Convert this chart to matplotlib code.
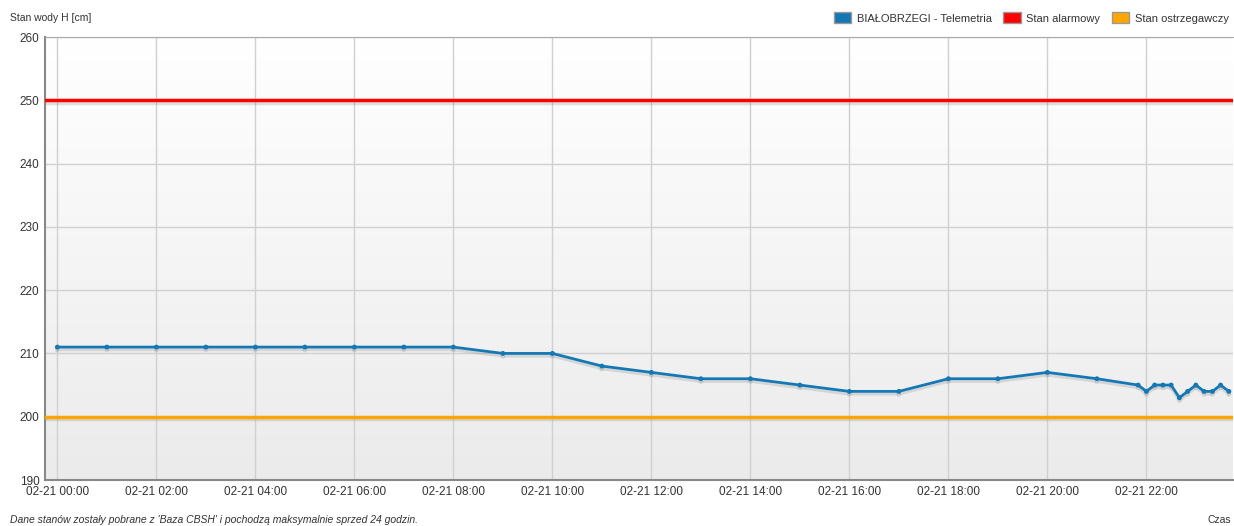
import matplotlib
matplotlib.use("Agg")
import matplotlib.pyplot as plt
import matplotlib.dates as mdates
import matplotlib.patheffects as pe
from matplotlib.patches import Patch
import numpy as np
import pandas as pd

times = ["00:00", "01:00", "02:00", "03:00", "04:00", "05:00", "06:00", "07:00",
         "08:00", "09:00", "10:00", "11:00", "12:00", "13:00", "14:00", "15:00",
         "16:00", "17:00", "18:00", "19:00", "20:00", "21:00", "21:50", "22:00",
         "22:10", "22:20", "22:30", "22:40", "22:50", "23:00", "23:10", "23:20",
         "23:30", "23:40"]
levels = [211, 211, 211, 211, 211, 211, 211, 211,
          211, 210, 210, 208, 207, 206, 206, 205,
          204, 204, 206, 206, 207, 206, 205, 204,
          205, 205, 205, 203, 204, 205, 204, 204,
          205, 204]
alarm_level = 250
warning_level = 200
series_name = "BIAŁOBRZEGI - Telemetria"
alarm_name = "Stan alarmowy"
warning_name = "Stan ostrzegawczy"

x = pd.to_datetime(["2024-02-21 " + t for t in times])
x_start = pd.Timestamp("2024-02-20 23:45")
x_end = pd.Timestamp("2024-02-21 23:45")

plt.rcParams["font.family"] = ["Liberation Sans", "DejaVu Sans"]

fig = plt.figure(figsize=(12.34, 5.26), dpi=100)
ax = fig.add_axes([45 / 1234, 46 / 526, 1188 / 1234, 443 / 526])

# gradient background
grad = np.linspace(0, 1, 256).reshape(-1, 1)
ax.imshow(grad, cmap=matplotlib.colors.LinearSegmentedColormap.from_list("bg", ["#ffffff", "#ebebeb"]),
          extent=[0, 1, 0, 1], transform=ax.transAxes, aspect="auto", zorder=0)

ax.set_xlim(x_start, x_end)
ax.set_ylim(190, 260)
ax.set_yticks(range(190, 261, 10))
ax.xaxis.set_major_locator(mdates.HourLocator(byhour=range(0, 24, 2)))
ax.xaxis.set_major_formatter(mdates.DateFormatter("%m-%d %H:%M"))
ax.grid(True, color="#d0d0d0", linewidth=1)
ax.set_axisbelow(True)

shadow = [pe.SimpleLineShadow(offset=(0, -2), shadow_color="#888888", alpha=0.25), pe.Normal()]
ax.axhline(alarm_level, color="#ff0000", linewidth=2.5, path_effects=shadow, zorder=3)
ax.axhline(warning_level, color="#ffa500", linewidth=2.5, path_effects=shadow, zorder=3)
ax.plot(x, levels, color="#1478b4", linewidth=2, marker="o", markersize=2.5,
        path_effects=shadow, zorder=4)

for side in ["left", "bottom"]:
    ax.spines[side].set_color("#888888")
    ax.spines[side].set_linewidth(1.5)
ax.spines["top"].set_color("#aaaaaa")
ax.spines["right"].set_visible(False)
ax.tick_params(axis="both", length=0, labelsize=8.5, colors="#333333", pad=4)
ax.tick_params(axis="x", pad=4)

fig.text(10 / 1234, 1 - 18 / 526, "Stan wody H [cm]", fontsize=7.5, color="#333333", va="center")
fig.text(10 / 1234, 1 - 520 / 526, "Dane stanów zostały pobrane z 'Baza CBSH' i pochodzą maksymalnie sprzed 24 godzin.",
         fontsize=7.5, color="#333333", style="italic", va="center")
fig.text(1231 / 1234, 1 - 520 / 526, "Czas", fontsize=7.5, color="#333333", va="center", ha="right")

handles = [Patch(facecolor="#1478b4", edgecolor="#999999", label=series_name),
           Patch(facecolor="#ff0000", edgecolor="#999999", label=alarm_name),
           Patch(facecolor="#ffa500", edgecolor="#999999", label=warning_name)]
fig.legend(handles=handles, loc="center right", bbox_to_anchor=(1.004, 1 - 18 / 526), ncol=3, frameon=False,
           fontsize=8, handlelength=1.6, handleheight=1.1, columnspacing=1.0, handletextpad=0.5,
           labelcolor="#333333")

fig.savefig("out.png", dpi=100)
